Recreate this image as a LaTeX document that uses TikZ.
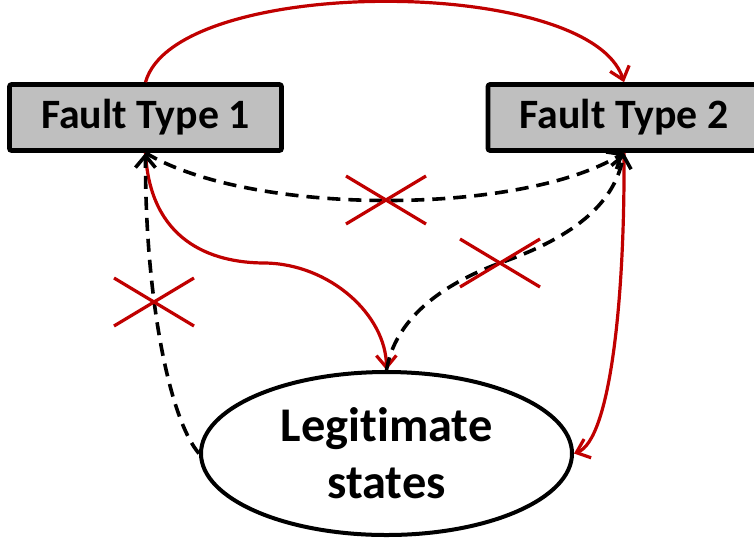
\documentclass[tikz,border=0pt]{standalone}
\usepackage{fontspec}
\setmainfont{Carlito}[Ligatures=NoCommon]
\usetikzlibrary{arrows.meta,shapes.geometric}
\definecolor{redline}{RGB}{192,0,0}
\definecolor{boxgray}{RGB}{191,191,191}
\begin{document}
\begin{tikzpicture}[x=0.5pt,y=-0.5pt,
  faultbox/.style={draw=black,line width=2.3pt,fill=boxgray,rounded corners=1pt,
    minimum width=136pt,minimum height=33pt,inner sep=0pt,
    font=\fontsize{20.9}{25}\selectfont\bfseries},
  stateell/.style={draw=black,line width=2pt,ellipse,minimum width=185.5pt,
    minimum height=81.5pt,inner sep=0pt,align=center,
    font=\fontsize{24.2}{28.5}\selectfont\bfseries},
  goodarrow/.style={draw=redline,line width=1.6pt,-{Straight Barb[length=6pt,width=10pt,line width=1.6pt]}},
  badarrow/.style={draw=black,line width=1.8pt,dash pattern=on 6.5pt off 4pt,
    -{Straight Barb[length=6pt,width=10pt,line width=1.8pt]}},
  crossline/.style={draw=redline,line width=1.6pt}
]
\useasboundingbox (0,0) rectangle (754,537);
\node[faultbox] (ft1) at (145.5,117.5) {Fault Type 1};
\node[faultbox] (ft2) at (624,117.5) {Fault Type 2};
\node[stateell] (ls) at (386.5,453.5) {Legitimate\\states};

% red arrows
\draw[goodarrow] (ft1.north) .. controls (175,-25) and (590,-25) .. (ft2.north);
\draw[goodarrow] (ft1.south) .. controls (150,240) and (210,263) .. (265,263)
  .. controls (330,264) and (386,315) .. (ls.north);
\draw[goodarrow] (ft2.south) .. controls (625,300) and (610,440) .. (ls.east);

% dashed arrows
\draw[badarrow] (ls.west) .. controls (170,420) and (145,300) .. (ft1.south);
\draw[badarrow] (ft1.south) .. controls (250,216) and (520,216) .. (ft2.south);
\draw[badarrow] (ls.north) .. controls (395,320) and (440,285) .. (500,263)
  .. controls (580,235) and (615,200) .. (ft2.south);

% crosses
\coordinate (c1) at (154,302);
\coordinate (c2) at (386,200);
\coordinate (c3) at (500,263);
\foreach \c in {c1,c2,c3}{
  \draw[crossline] ([shift={(-40,-24)}]\c) -- ([shift={(40,24)}]\c);
  \draw[crossline] ([shift={(-40,24)}]\c) -- ([shift={(40,-24)}]\c);
}
\end{tikzpicture}
\end{document}
